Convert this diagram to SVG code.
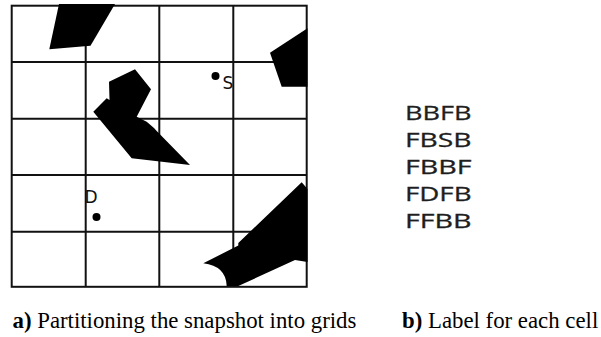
<svg xmlns="http://www.w3.org/2000/svg" width="601" height="337" viewBox="0 0 601 337">
  <style>
    .grid { stroke: #111; stroke-width: 2; fill: none; }
    .obs { fill: #000; }
    .pt { font-family: "DejaVu Sans", "Liberation Sans", sans-serif; font-size: 17px; fill: #111; }
    .lab { font-family: "Open Sans", "Noto Sans", sans-serif; font-size: 20px; fill: #1e1e1e; stroke: #1e1e1e; stroke-width: 0.3; }
    .cap { font-family: "Liberation Serif", serif; font-size: 22.8px; fill: #000; }
  </style>
  <rect width="601" height="337" fill="#fff"/>
  <g id="grid" class="grid">
    <rect x="11.7" y="5.7" width="295" height="281.1"/>
    <line x1="85.7" y1="5.7" x2="85.7" y2="286.8"/>
    <line x1="159.3" y1="5.7" x2="159.3" y2="286.8"/>
    <line x1="233.3" y1="5.7" x2="233.3" y2="286.8"/>
    <line x1="11.7" y1="62" x2="306.7" y2="62"/>
    <line x1="11.7" y1="118.7" x2="306.7" y2="118.7"/>
    <line x1="11.7" y1="175" x2="306.7" y2="175"/>
    <line x1="11.7" y1="231.7" x2="306.7" y2="231.7"/>
  </g>
  <g id="obstacles" class="obs">
    <polygon id="obstacle-top" points="59,4 115,4 90.5,45.7 49.3,49.3"/>
    <polygon id="obstacle-right" points="307.5,28.3 270,52.7 281.7,86.7 307.5,86.7"/>
    <polygon id="obstacle-middle" points="135,69.3 151,89.3 136.7,116.7 146.7,121.7 154,128 156.7,131 190,165 131.7,158.3 93.3,111.7 106.7,98.3 109.5,100 109,81.7"/>
    <path id="obstacle-bottom" d="M301.7,182.3 L307.5,189 L307.5,262 L295,260 L238.3,286 L226.7,286 Q226,266 203.3,263.3 L238.3,245.5 L238.3,243 Z"/>
  </g>
  <g id="node-S">
    <circle cx="215.5" cy="76" r="4"/>
    <text class="pt" x="222.5" y="89">S</text>
  </g>
  <g id="node-D">
    <text class="pt" x="84.5" y="203" font-size="18">D</text>
    <circle cx="96.5" cy="217" r="4"/>
  </g>
  <g id="labels" class="lab">
    <text x="405" y="119.5" textLength="66.5" lengthAdjust="spacingAndGlyphs">BBFB</text>
    <text x="405" y="146.5" textLength="66.5" lengthAdjust="spacingAndGlyphs">FBSB</text>
    <text x="405" y="173.5" textLength="66.5" lengthAdjust="spacingAndGlyphs">FBBF</text>
    <text x="405" y="200.5" textLength="66.5" lengthAdjust="spacingAndGlyphs">FDFB</text>
    <text x="405" y="227.5" textLength="66.5" lengthAdjust="spacingAndGlyphs">FFBB</text>
  </g>
  <g id="captions" class="cap">
    <text x="12.5" y="328"><tspan font-weight="bold">a)</tspan> Partitioning the snapshot into grids</text>
    <text x="402" y="328"><tspan font-weight="bold">b)</tspan> Label for each cell</text>
  </g>
</svg>
